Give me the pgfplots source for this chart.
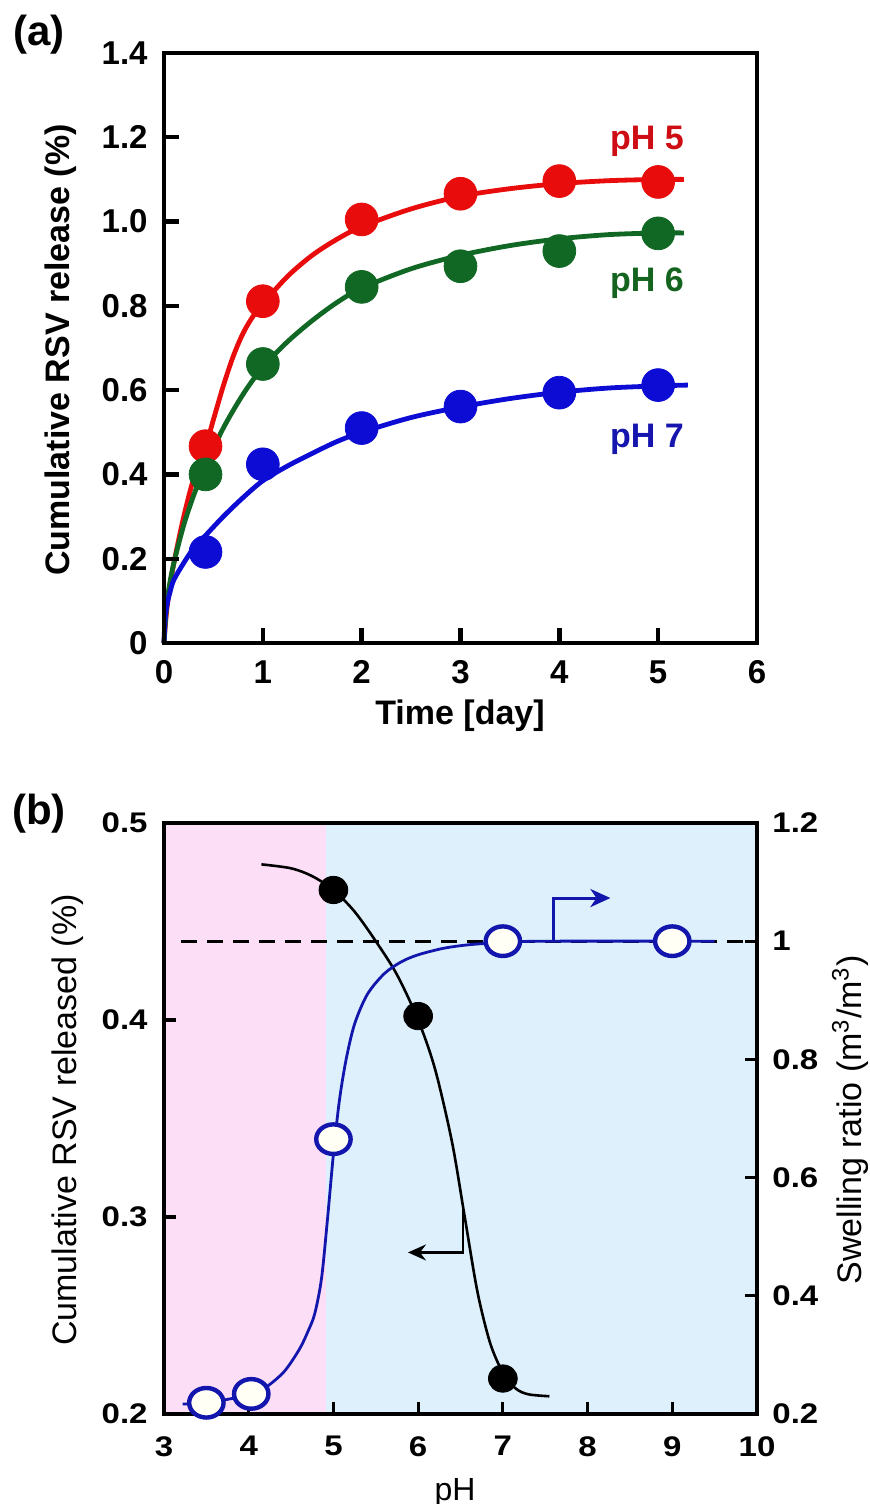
\documentclass[border=0pt]{standalone}
\usepackage{graphicx}
\usepackage{pgfplots}
\pgfplotsset{compat=1.18}
\usepackage{fontspec}
\setmainfont{Liberation Sans}
\usetikzlibrary{arrows.meta}

\definecolor{cred}{RGB}{232,12,12}
\definecolor{cgreen}{RGB}{16,104,36}
\definecolor{cblue}{RGB}{12,12,212}
\definecolor{tred}{RGB}{205,12,20}
\definecolor{tgreen}{RGB}{20,100,32}
\definecolor{tblue}{RGB}{22,22,175}
\definecolor{bblue}{RGB}{18,22,172}
\definecolor{pinkbg}{RGB}{252,222,247}
\definecolor{bluebg}{RGB}{221,240,252}
\definecolor{ofill}{RGB}{255,255,246}

\newcommand{\fa}{\fontsize{16.5}{19}\selectfont\bfseries}
\newcommand{\fb}{\fontsize{16.5}{19}\selectfont\bfseries}
\newcommand{\sq}[1]{\scalebox{1}[0.86]{#1}}

\begin{document}
\begin{tikzpicture}
\path[use as bounding box] (-82pt,-45pt) rectangle (353pt,707pt);

% ---------------- panel (a)
\begin{axis}[
  at={(0pt,385.5pt)}, anchor=south west,
  scale only axis, width=296.5pt, height=295pt,
  xmin=0, xmax=6, ymin=0, ymax=1.4,
  xtick={0,1,2,3,4,5,6}, xticklabels={0,1,2,3,4,5,6},
  ytick={0,0.2,0.4,0.6,0.8,1.0,1.2,1.4},
  yticklabels={0,0.2,0.4,0.6,0.8,1.0,1.2,1.4},
  xtick pos=bottom, ytick pos=left, tick align=inside,
  major tick length=7.5pt,
  axis line style={line width=2.2pt},
  tick style={line width=2.2pt, black},
  tick label style={font=\fa},
  xticklabel style={anchor=north, inner sep=0pt, yshift=-8.5pt},
  yticklabel style={anchor=east, inner sep=0pt, xshift=-8pt},
  clip=false, axis on top,
]
\addplot[cred, line width=2.4pt, smooth, no marks] coordinates {
 (0,0)(0.02,0.06)(0.05,0.12)(0.1,0.19)(0.2,0.30)(0.3,0.39)(0.42,0.465)(0.5,0.53)
 (0.6,0.61)(0.7,0.68)(0.8,0.735)(0.9,0.775)(1,0.805)(1.25,0.87)(1.5,0.92)(1.75,0.958)
 (2,0.988)(2.5,1.03)(3,1.06)(3.5,1.078)(4,1.09)(4.5,1.097)(5,1.1)(5.26,1.1)};
\addplot[cgreen, line width=2.4pt, smooth, no marks] coordinates {
 (0,0)(0.02,0.07)(0.05,0.13)(0.1,0.19)(0.2,0.28)(0.3,0.35)(0.42,0.42)(0.6,0.51)
 (0.8,0.59)(1,0.655)(1.25,0.715)(1.5,0.765)(1.75,0.808)(2,0.842)(2.5,0.888)(3,0.92)
 (3.5,0.943)(4,0.959)(4.5,0.969)(5,0.973)(5.26,0.973)};
\addplot[cblue, line width=2.4pt, smooth, no marks] coordinates {
 (0,0)(0.01,0.055)(0.03,0.09)(0.06,0.12)(0.1,0.15)(0.2,0.19)(0.3,0.225)(0.42,0.255)
 (0.6,0.30)(0.8,0.345)(1,0.385)(1.25,0.42)(1.5,0.45)(1.75,0.478)(2,0.50)(2.5,0.535)
 (3,0.56)(3.5,0.58)(4,0.595)(4.5,0.605)(5,0.61)(5.3,0.612)};
\addplot[only marks, mark=*, mark size=8.2pt, cred] coordinates {
 (0.42,0.467)(1,0.811)(2,1.005)(3,1.066)(4,1.096)(5,1.094)};
\addplot[only marks, mark=*, mark size=8.2pt, cgreen] coordinates {
 (0.42,0.400)(1,0.662)(2,0.845)(3,0.894)(4,0.930)(5,0.972)};
\addplot[only marks, mark=*, mark size=8.2pt, cblue] coordinates {
 (0.42,0.216)(1,0.424)(2,0.510)(3,0.561)(4,0.594)(5,0.612)};
\node[anchor=base east, text=tred, font=\fontsize{17}{20}\selectfont\bfseries] at (axis cs:5.33,1.17) {pH 5};
\node[anchor=base east, text=tgreen, font=\fontsize{17}{20}\selectfont\bfseries] at (axis cs:5.33,0.835) {pH 6};
\node[anchor=base east, text=tblue, font=\fontsize{17}{20}\selectfont\bfseries] at (axis cs:5.33,0.463) {pH 7};
\end{axis}

% ---------------- panel (b), left axis
\begin{axis}[
  at={(0pt,0pt)}, anchor=south west,
  scale only axis, width=296.5pt, height=295.5pt,
  xmin=3, xmax=10, ymin=0.2, ymax=0.5,
  xtick={3,4,5,6,7,8,9,10},
  xticklabels={\sq{3},\sq{4},\sq{5},\sq{6},\sq{7},\sq{8},\sq{9},\sq{10}},
  ytick={0.2,0.3,0.4,0.5},
  yticklabels={\sq{0.2},\sq{0.3},\sq{0.4},\sq{0.5}},
  xtick pos=bottom, ytick pos=left, tick align=inside,
  major tick length=6pt,
  axis line style={line width=2.2pt},
  tick style={line width=1.6pt, black},
  tick label style={font=\fb},
  xticklabel style={anchor=north, inner sep=0pt, yshift=-11pt},
  yticklabel style={anchor=east, inner sep=0pt, xshift=-8pt},
  clip=false, axis on top,
]
\addplot[draw=none, fill=pinkbg] coordinates {(3,0.2)(4.91,0.2)(4.91,0.5)(3,0.5)} -- cycle;
\addplot[draw=none, fill=bluebg] coordinates {(4.91,0.2)(10,0.2)(10,0.5)(4.91,0.5)} -- cycle;
\addplot[black, line width=1.3pt, smooth, no marks] coordinates {
 (4.15,0.479)(4.5,0.477)(4.75,0.473)(5.0,0.466)(5.25,0.455)(5.5,0.44)(5.75,0.423)
 (6.0,0.40)(6.2,0.375)(6.4,0.338)(6.55,0.30)(6.7,0.262)(6.85,0.236)(7.0,0.221)
 (7.15,0.213)(7.3,0.21)(7.55,0.209)};
\draw[black, line width=1.2pt, -{Stealth[length=9pt,width=8pt,inset=3pt]}]
  (axis cs:6.53,0.305) -- (axis cs:6.53,0.282) -- (axis cs:5.88,0.282);
\end{axis}

% ---------------- panel (b), right axis
\begin{axis}[
  at={(0pt,0pt)}, anchor=south west,
  scale only axis, width=296.5pt, height=295.5pt,
  xmin=3, xmax=10, ymin=0.2, ymax=1.2,
  axis x line=none, axis y line*=right,
  ytick={0.2,0.4,0.6,0.8,1,1.2},
  yticklabels={\sq{0.2},\sq{0.4},\sq{0.6},\sq{0.8},\sq{1},\sq{1.2}},
  tick align=inside,
  major tick length=6pt,
  axis line style={line width=2.2pt},
  tick style={line width=1.6pt, black},
  tick label style={font=\fb},
  yticklabel style={anchor=west, inner sep=0pt, xshift=7.5pt},
  clip=false, axis on top,
]
\addplot[black, line width=1.5pt, dash pattern=on 8pt off 5pt, no marks] coordinates {(3.2,1)(10,1)};
\addplot[bblue, line width=1.4pt, smooth, no marks] coordinates {
 (3.22,0.217)(3.5,0.219)(4.0,0.232)(4.2,0.245)(4.42,0.272)(4.6,0.31)(4.7,0.34)
 (4.78,0.37)(4.86,0.43)(4.93,0.53)(5.0,0.64)(5.07,0.73)(5.15,0.80)(5.25,0.86)
 (5.4,0.91)(5.6,0.945)(5.8,0.965)(6.0,0.977)(6.3,0.988)(6.6,0.994)(7.0,0.998)
 (7.5,1.0)(9.5,1.0)};
\draw[bblue, line width=1.5pt, -{Stealth[length=10pt,width=9pt,inset=3pt]}]
  (axis cs:7.6,1.0) -- (axis cs:7.6,1.073) -- (axis cs:8.27,1.073);
\addplot[only marks, mark=*, mark size=8.6pt, draw=bblue, fill=ofill, line width=2.2pt,
  mark options={yscale=0.86}] coordinates {
 (3.5,0.219)(4.03,0.234)(5,0.665)(7,1.0)(9,1.0)};
\end{axis}

% left-axis filled black points drawn last, on top
\begin{axis}[
  at={(0pt,0pt)}, anchor=south west,
  scale only axis, width=296.5pt, height=295.5pt,
  xmin=3, xmax=10, ymin=0.2, ymax=0.5,
  hide axis, clip=false,
]
\addplot[only marks, mark=*, mark size=7.2pt, black, mark options={yscale=0.95}] coordinates {
 (5,0.466)(6,0.402)(7,0.218)};
\end{axis}

% labels
\node[font=\fontsize{21}{24}\selectfont\bfseries] at (-62.5pt,689.5pt) {(a)};
\node[font=\fontsize{21}{24}\selectfont\bfseries] at (-62.5pt,300pt) {(b)};
\node[rotate=90, font=\fontsize{17}{20}\selectfont\bfseries] at (-51.5pt,532pt) {Cumulative RSV release (\%)};
\node[font=\fontsize{17}{20}\selectfont\bfseries] at (148pt,349pt) {Time [day]};
\node[rotate=90, font=\fontsize{17}{20}\selectfont] at (-48pt,147pt) {Cumulative RSV released (\%)};
\node[anchor=base, font=\fontsize{16}{19}\selectfont] at (145.5pt,-43pt) {pH};
\node[rotate=90, font=\fontsize{17}{20}\selectfont] at (343pt,147pt) {Swelling ratio (m\textsuperscript{3}/m\textsuperscript{3})};
\end{tikzpicture}
\end{document}
